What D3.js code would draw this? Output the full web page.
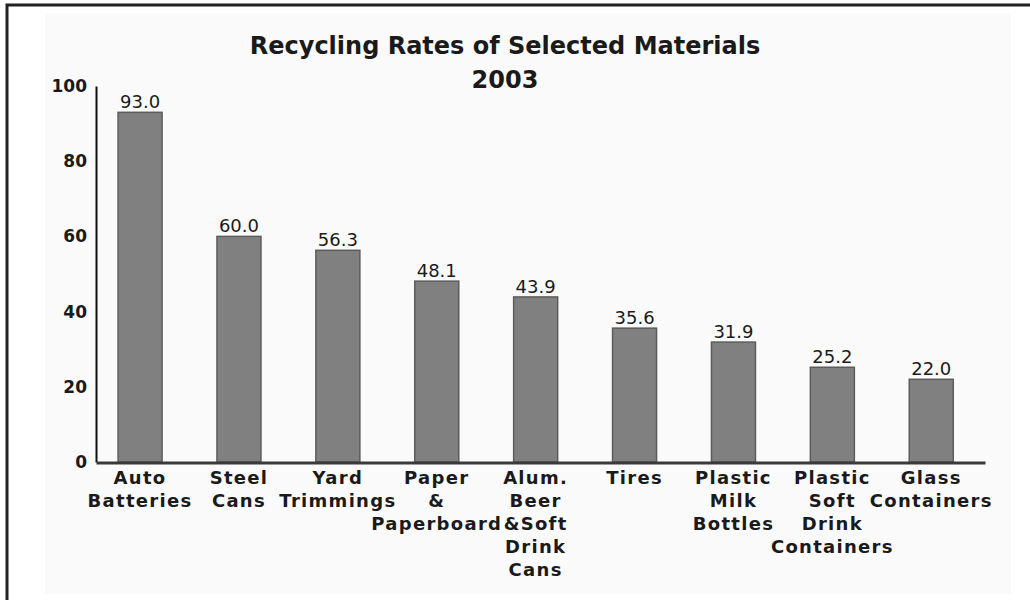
<!DOCTYPE html>
<html>
<head>
<meta charset="utf-8">
<script src="https://cdn.jsdelivr.net/npm/d3@7/dist/d3.min.js"></script>
<style type="text/css">
  body{
    margin: 0;
    background: white;
  }
  .title{
    font-family: 'DejaVu Sans', sans-serif;
    font-weight: bold;
    font-size: 24px;
    fill: #1a1a1a;
  }
  .yAxis text{
    font-family: 'DejaVu Sans', sans-serif;
    font-weight: bold;
    font-size: 17px;
    fill: #1a1a1a;
  }
  .catText{
    font-family: 'DejaVu Sans', sans-serif;
    font-weight: bold;
    font-size: 18px;
    letter-spacing: 1.3px;
    fill: #1a1a1a;
  }
  .valText{
    font-family: 'DejaVu Sans', sans-serif;
    font-size: 18px;
    fill: #1a1a1a;
  }
</style>
</head>
<body>

<svg id="chart" width="1030" height="600"></svg>

<script>

var categories = ["Auto Batteries", "Steel Cans", "Yard Trimmings", "Paper & Paperboard",
  "Alum. Beer &Soft Drink Cans", "Tires", "Plastic Milk Bottles",
  "Plastic Soft Drink Containers", "Glass Containers"];

// how each category label is broken into lines
var labelLines = [
  ["Auto", "Batteries"],
  ["Steel", "Cans"],
  ["Yard", "Trimmings"],
  ["Paper", "&", "Paperboard"],
  ["Alum.", "Beer", "&Soft", "Drink", "Cans"],
  ["Tires"],
  ["Plastic", "Milk", "Bottles"],
  ["Plastic", "Soft", "Drink", "Containers"],
  ["Glass", "Containers"]
];

var rates = [93.0, 60.0, 56.3, 48.1, 43.9, 35.6, 31.9, 25.2, 22.0];

var yTicks = [0, 20, 40, 60, 80, 100];

var titleLines = ["Recycling Rates of Selected Materials", "2003"];

var svg = d3.select("#chart");

// frame + light panel
svg.append("rect")
  .attr("x", 45).attr("y", 13)
  .attr("width", 966).attr("height", 581)
  .attr("fill", "#fafafa");

svg.append("rect")
  .attr("x", 7).attr("y", 5)
  .attr("width", 1100).attr("height", 700)
  .attr("fill", "none")
  .attr("stroke", "#222")
  .attr("stroke-width", 3);

var x = d3.scaleBand()
  .domain(categories)
  .range([96, 985])
  .paddingInner(0.555)
  .paddingOuter(0.272)
  .align(0.41);

var y = d3.scaleLinear()
  .domain([0, 100])
  .range([462, 86]);

// title
svg.selectAll(".title")
  .data(titleLines)
  .enter()
  .append("text")
  .attr("class", "title")
  .attr("x", 505)
  .attr("y", function(d, i) { return 54 + i * 34; })
  .attr("text-anchor", "middle")
  .text(function(d) { return d; });

// bars
svg.selectAll(".bar")
  .data(rates)
  .enter()
  .append("rect")
  .attr("class", "bar")
  .attr("x", function(d, i) { return x(categories[i]); })
  .attr("y", function(d) { return y(d); })
  .attr("width", x.bandwidth())
  .attr("height", function(d) { return y(0) - y(d); })
  .attr("fill", "#808080")
  .attr("stroke", "#5c5c5c")
  .attr("stroke-width", 1.5);

// value labels
svg.selectAll(".valText")
  .data(rates)
  .enter()
  .append("text")
  .attr("class", "valText")
  .attr("x", function(d, i) { return x(categories[i]) + x.bandwidth() / 2; })
  .attr("y", function(d) { return y(d) - 4; })
  .attr("text-anchor", "middle")
  .text(function(d) { return d.toFixed(1); });

// y axis
var yAxis = d3.axisLeft(y)
  .tickValues(yTicks)
  .tickSize(0)
  .tickPadding(9);

svg.append("g")
  .attr("class", "yAxis")
  .attr("transform", "translate(96,0)")
  .call(yAxis)
  .call(function(g) {
    g.select(".domain").attr("stroke", "#111").attr("stroke-width", 2);
  });

// x axis line + multi-line category labels
var xAxis = d3.axisBottom(x)
  .tickSize(0)
  .tickFormat("");

svg.append("g")
  .attr("class", "xAxis")
  .attr("transform", "translate(0,462.5)")
  .call(xAxis)
  .call(function(g) {
    g.select(".domain").attr("stroke", "#3a3a3a").attr("stroke-width", 3);
  });

var catLabel = svg.selectAll(".catText")
  .data(categories)
  .enter()
  .append("text")
  .attr("class", "catText")
  .attr("text-anchor", "middle");

catLabel.each(function(d, i) {
  var cx = x(d) + x.bandwidth() / 2;
  d3.select(this).selectAll("tspan")
    .data(labelLines[i])
    .enter()
    .append("tspan")
    .attr("x", cx)
    .attr("y", function(t, j) { return 484 + j * 23; })
    .text(function(t) { return t; });
});

</script>

</body>
</html>
